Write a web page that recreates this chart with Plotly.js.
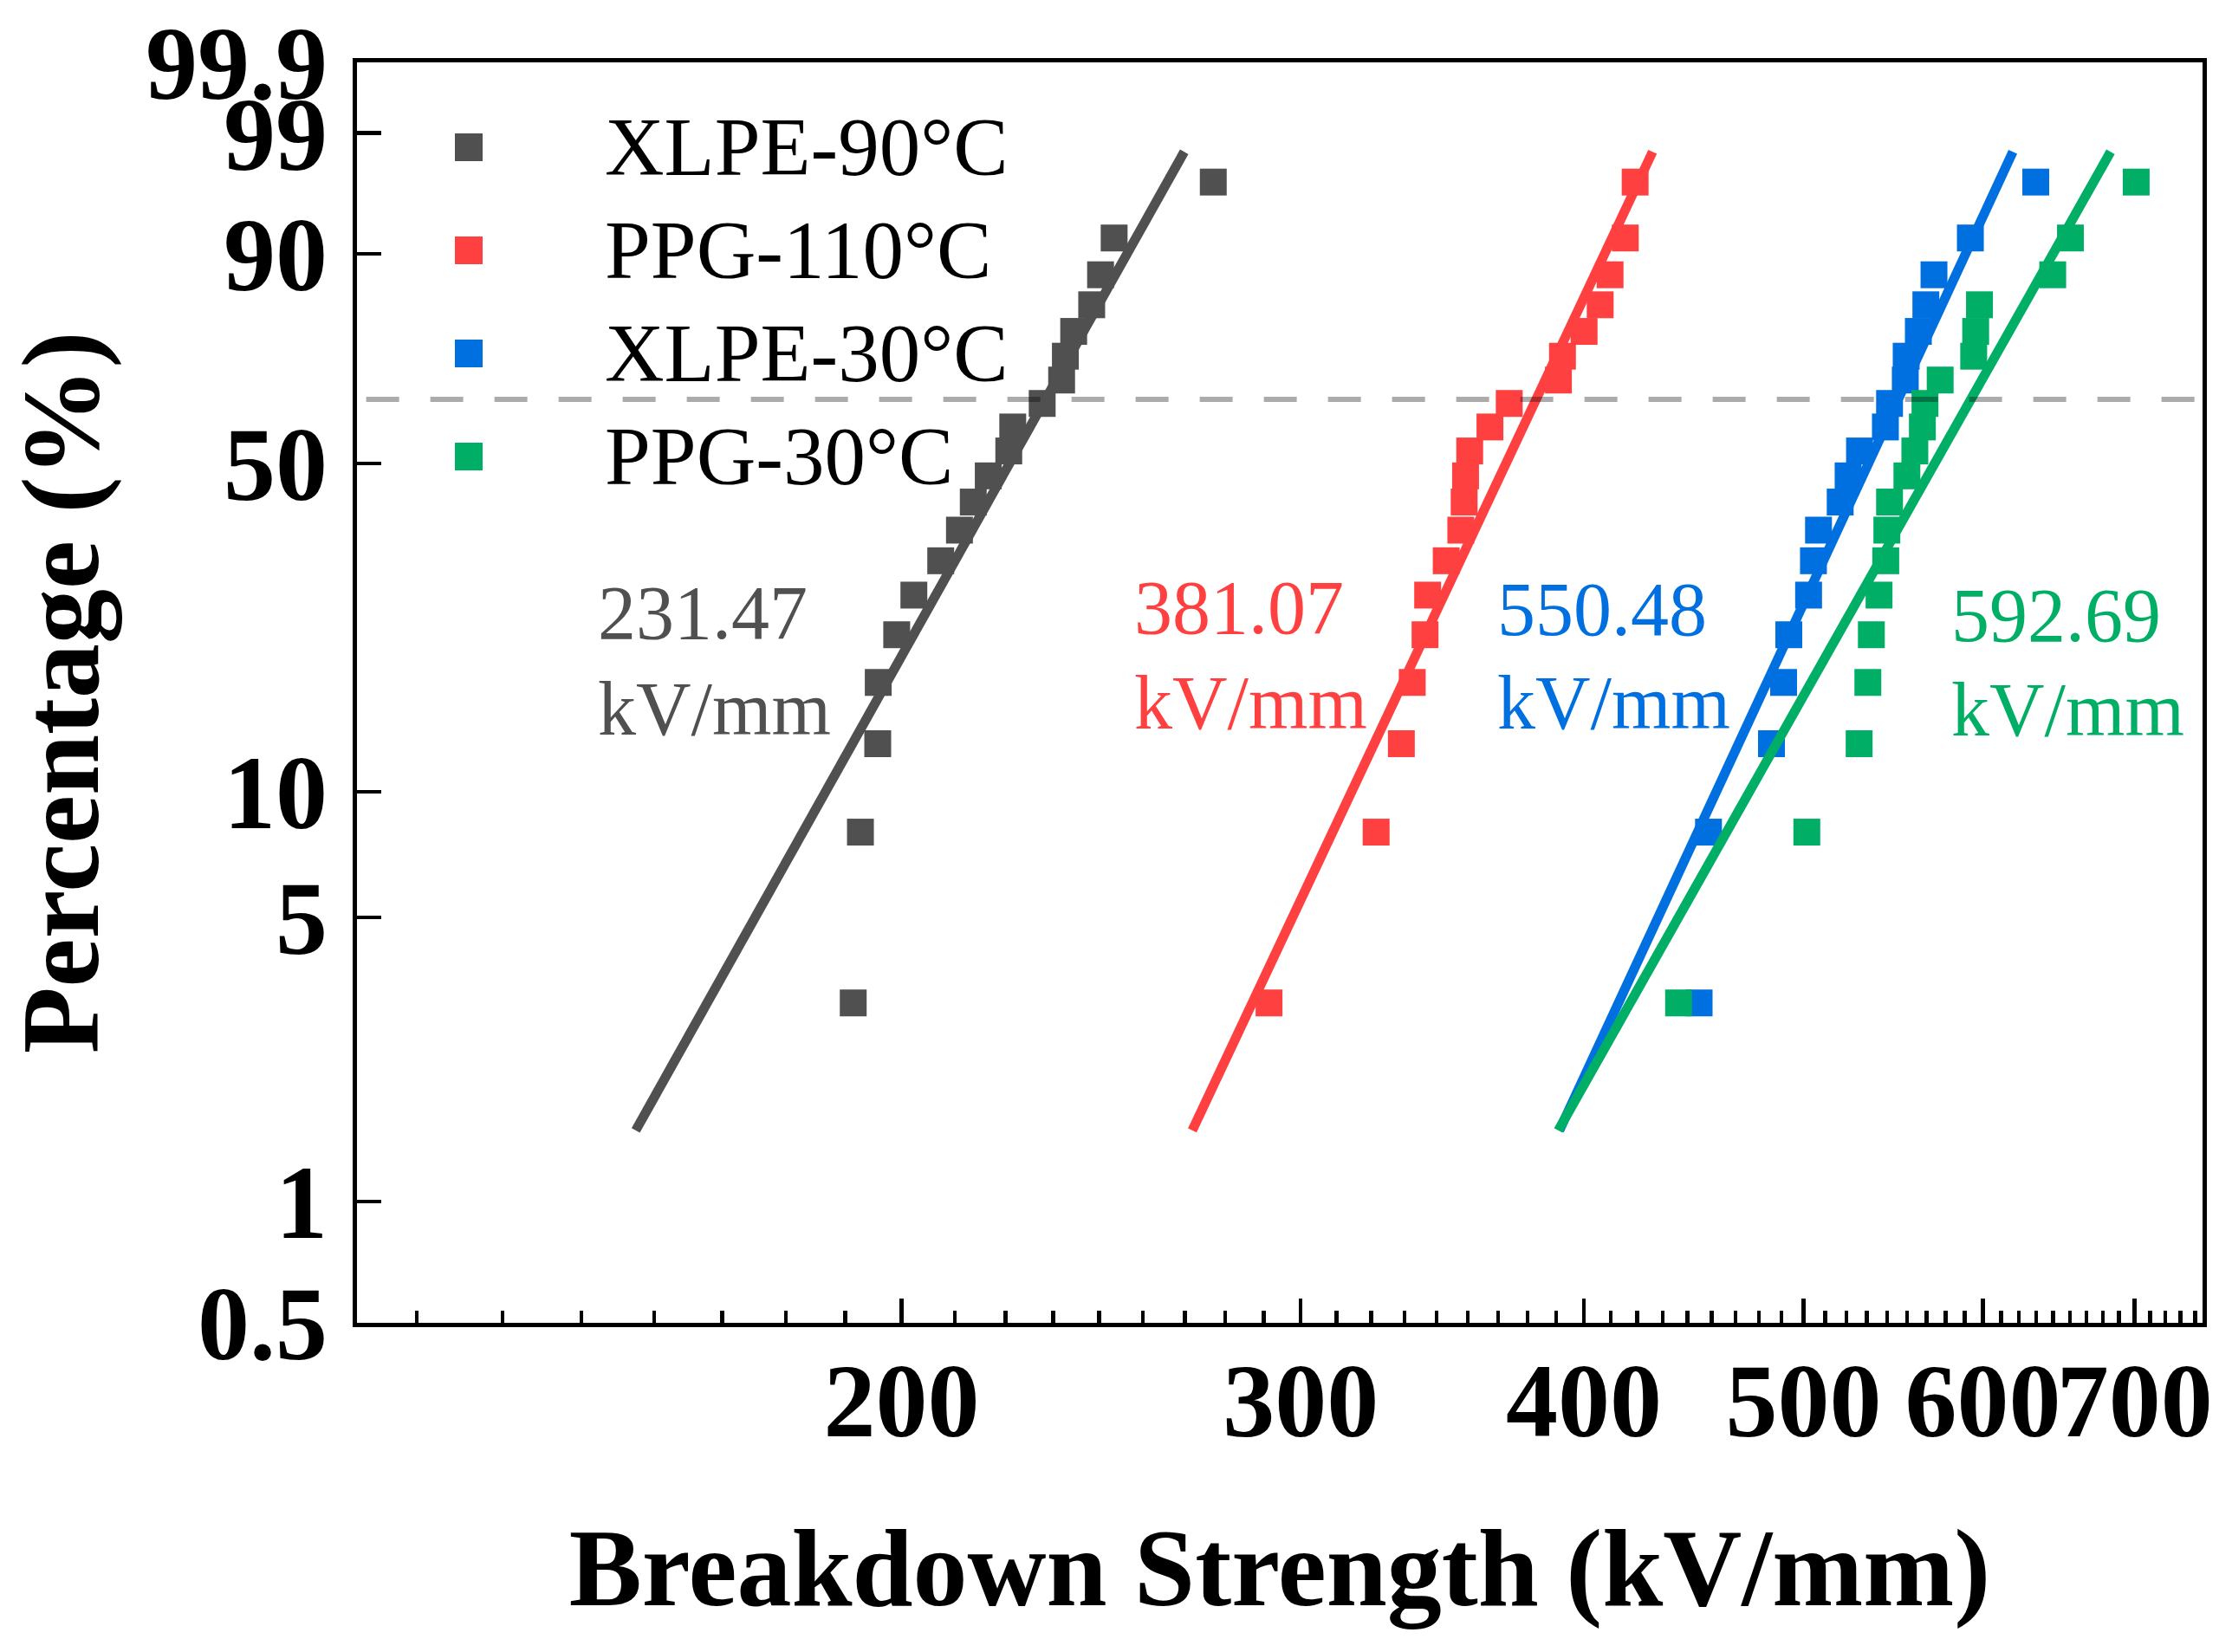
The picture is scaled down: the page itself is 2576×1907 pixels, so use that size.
<!DOCTYPE html>
<html><head><meta charset="utf-8">
<script src="https://cdn.plot.ly/plotly-3.0.1.min.js"></script>
<style>html,body{margin:0;padding:0;background:#fff;} #chart{width:2576px;height:1907px;}</style>
</head><body><div id="chart"></div>
<script>
// ---------------- data ----------------
const seriesNames = ['XLPE-90°C', 'PPG-110°C', 'XLPE-30°C', 'PPG-30°C'];
const seriesColors = ['#505050', '#FF4040', '#0070E0', '#00AE66'];
// failure probability (%) of each ranked specimen (20 specimens)
const failureProbability = [3.09, 8.02, 12.96, 17.90, 22.84, 27.78, 32.72, 37.65, 42.59, 47.53,
                            52.47, 57.41, 62.35, 67.28, 72.22, 77.16, 82.10, 87.04, 91.98, 96.91];
// breakdown strength (kV/mm)
const xlpe90 = [190.4, 191.8, 195.2, 195.3, 199.0, 202.5, 208.1, 212.1, 215.1, 218.4,
                223.0, 223.9, 230.7, 235.3, 236.2, 238.2, 242.6, 244.8, 248.2, 274.5];
const ppg110 = [290.5, 323.9, 332.3, 336.0, 340.4, 341.3, 347.8, 353.0, 354.2, 354.7,
                356.2, 363.6, 370.8, 389.8, 391.4, 400.1, 406.7, 410.8, 417.2, 421.4];
const xlpe30 = [449.7, 454.0, 484.0, 490.0, 492.6, 502.6, 505.1, 507.7, 519.0, 523.2,
                529.3, 543.4, 545.7, 554.5, 555.0, 561.9, 566.2, 570.9, 592.4, 633.1];
const ppg30  = [440.4, 501.7, 529.1, 533.8, 535.7, 539.9, 543.6, 544.2, 545.7, 555.4,
                559.9, 564.2, 565.7, 574.5, 594.4, 595.6, 597.9, 644.1, 655.8, 701.1];
const seriesValues = [xlpe90, ppg110, xlpe30, ppg30];
// Weibull fit parameters
const scaleAlpha = [231.47, 381.07, 550.48, 592.69];
const shapeBeta = [10.07, 12.0, 12.18, 10.0];
const fitPercentRange = [1.5, 98.4];
const characteristicPercent = 63.21;
const alphaLabels = ['231.47', '381.07', '550.48', '592.69'];
const unitLabel = 'kV/mm';
// axes
const yTickPercents = [0.5, 1, 5, 10, 50, 90, 99, 99.9];
const yTickLabels = ['0.5', '1', '5', '10', '50', '90', '99', '99.9'];
const xTickValues = [200, 300, 400, 500, 600, 700];
const xTickLabels = ['200', '300', '400', '500', '600', '700'];
const xRange = [115, 750];
const yRange = [0.5, 99.9];

// ---------------- helpers ----------------
const weib = p => Math.log(-Math.log(1 - p / 100));
const FONT = 'Liberation Serif';

// plot-area geometry (px)
const W = 2576, H = 1907;
const M = {l: 412, r: 34, t: 72, b: 380};
const PW = W - M.l - M.r, PH = H - M.t - M.b;
const px2x = px => (px - M.l) / PW;
const py2y = py => (M.t + PH - py) / PH;

// minor ticks: 8 per 100 kV/mm interval
const minorVals = [];
for (let m = 100; m < 800; m += 100) {
  for (let j = 1; j <= 8; j++) {
    const v = m + j * 100 / 9;
    if (v > xRange[0] && v < xRange[1]) minorVals.push(v);
  }
}

const traces = [];
seriesValues.forEach((vals, i) => {
  traces.push({
    type: 'scatter', mode: 'markers', name: seriesNames[i],
    x: vals, y: failureProbability.map(weib),
    marker: {symbol: 'square', size: 31, color: seriesColors[i], line: {width: 0}},
    showlegend: false, hoverinfo: 'skip'
  });
  const fitX = fitPercentRange.map(p => scaleAlpha[i] * Math.exp(weib(p) / shapeBeta[i]));
  traces.push({
    type: 'scatter', mode: 'lines', name: seriesNames[i] + ' fit',
    x: fitX, y: fitPercentRange.map(weib),
    line: {color: seriesColors[i], width: 11},
    showlegend: false, hoverinfo: 'skip'
  });
});

// legend (custom, large square symbols)
const legendCenterX = px2x(541);
const legendTextX = px2x(696);
const legendRowsPx = [170, 289, 408, 527];
const shapes = [];
const annotations = [];
seriesNames.forEach((nm, i) => {
  shapes.push({
    type: 'rect', xref: 'paper', yref: 'paper', xsizemode: 'pixel', ysizemode: 'pixel',
    xanchor: legendCenterX, yanchor: py2y(legendRowsPx[i]),
    x0: -16, x1: 16, y0: -16, y1: 16,
    fillcolor: seriesColors[i], line: {width: 0}
  });
  annotations.push({
    xref: 'paper', yref: 'paper', x: legendTextX, y: py2y(legendRowsPx[i]),
    xanchor: 'left', yanchor: 'middle', showarrow: false, text: nm,
    font: {family: FONT, size: 95, color: '#000'}
  });
});

// characteristic value labels
const labelPos = [[688, 707, 819], [1307, 701, 811], [1726, 703, 811], [2250, 710, 820]];
alphaLabels.forEach((t, i) => {
  annotations.push({
    xref: 'paper', yref: 'paper', x: px2x(labelPos[i][0]), y: py2y(labelPos[i][1]),
    xanchor: 'left', yanchor: 'middle', showarrow: false, text: t,
    font: {family: FONT, size: 88, color: seriesColors[i]}
  });
  annotations.push({
    xref: 'paper', yref: 'paper', x: px2x(labelPos[i][0]), y: py2y(labelPos[i][2]),
    xanchor: 'left', yanchor: 'middle', showarrow: false, text: unitLabel,
    font: {family: FONT, size: 88, color: seriesColors[i]}
  });
});

// 63.2 % reference line
shapes.push({
  type: 'line', xref: 'paper', yref: 'y', x0: 0.005, x1: 1,
  y0: weib(characteristicPercent), y1: weib(characteristicPercent),
  line: {color: 'rgba(0,0,0,0.33)', width: 6, dash: '38px,36px'}, layer: 'above'
});

const tickFont = {family: FONT, size: 120, weight: 'bold', color: '#000'};
const layout = {
  width: W, height: H, margin: M,
  paper_bgcolor: '#fff', plot_bgcolor: '#fff', showlegend: false,
  font: {family: FONT, color: '#000'},
  xaxis: {
    type: 'log', range: xRange.map(Math.log10),
    tickmode: 'array', tickvals: xTickValues, ticktext: xTickLabels,
    ticks: 'inside', ticklen: 28, tickwidth: 4.5, tickcolor: '#000',
    showline: true, linewidth: 5, linecolor: '#000', mirror: true,
    showgrid: false, zeroline: false, tickangle: 0, tickfont: tickFont,
    ticklabelstandoff: -18,
    minor: {tickmode: 'array', tickvals: minorVals, ticks: 'inside', ticklen: 14,
            tickwidth: 4.5, tickcolor: '#000', showgrid: false},
    title: {text: 'Breakdown Strength (kV/mm)', font: {family: FONT, size: 126, weight: 'bold', color: '#000'}, standoff: 83}
  },
  yaxis: {
    range: yRange.map(weib),
    tickmode: 'array', tickvals: yTickPercents.map(weib), ticktext: yTickLabels,
    ticks: 'inside', ticklen: 28, tickwidth: 4.5, tickcolor: '#000',
    showline: true, linewidth: 5, linecolor: '#000', mirror: true,
    showgrid: false, zeroline: false, tickfont: tickFont,
    ticklabelstandoff: 5,
    title: {text: 'Percentage (%)', font: {family: FONT, size: 126, weight: 'bold', color: '#000'}, standoff: 13}
  },
  shapes: shapes,
  annotations: annotations
};

Plotly.newPlot('chart', traces, layout, {displayModeBar: false, staticPlot: true});
</script>
</body></html>
